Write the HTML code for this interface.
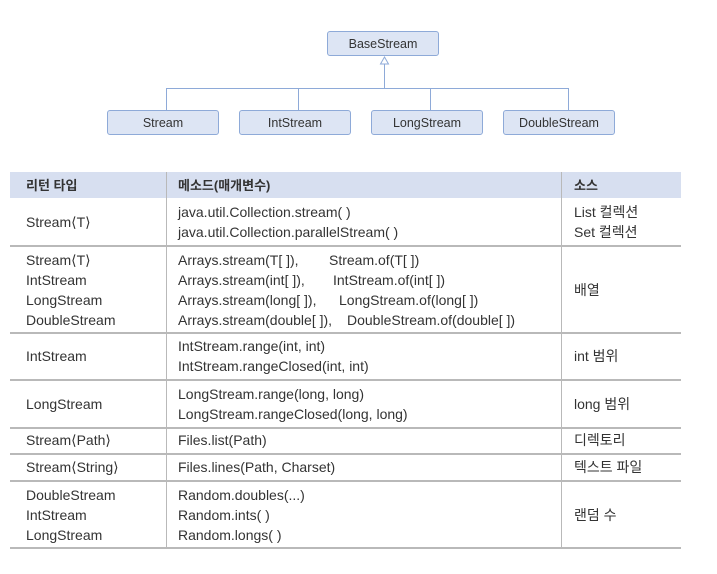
<!DOCTYPE html>
<html><head><meta charset="utf-8"><style>
body{margin:0;width:717px;height:574px;background:#fff;font-family:"Liberation Sans","Noto Sans CJK KR",sans-serif;color:#333;position:relative;overflow:hidden}
.b{position:absolute;height:25px;width:112px;background:#dde5f4;border:1px solid #8eaad8;border-radius:3px;font-size:12.5px;line-height:25px;text-align:center;box-sizing:border-box}
.l{position:absolute;background:#8eaad8}
.t{position:absolute;font-size:14px;line-height:20px;white-space:nowrap}
.h{position:absolute;background:#b9b9b9;height:2px;left:10px;width:671px}
.v{position:absolute;background:#b9b9b9;width:1px}
</style></head><body>
<div class="b" style="left:327px;top:31px">BaseStream</div>
<div class="b" style="left:107px;top:110px">Stream</div>
<div class="b" style="left:239px;top:110px">IntStream</div>
<div class="b" style="left:371px;top:110px">LongStream</div>
<div class="b" style="left:503px;top:110px">DoubleStream</div>
<div class="l" style="left:384px;top:63px;width:1px;height:25px"></div>
<div class="l" style="left:166px;top:88px;width:403px;height:1px"></div>
<div class="l" style="left:166px;top:88px;width:1px;height:22px"></div>
<div class="l" style="left:298px;top:88px;width:1px;height:22px"></div>
<div class="l" style="left:430px;top:88px;width:1px;height:22px"></div>
<div class="l" style="left:568px;top:88px;width:1px;height:22px"></div>
<svg style="position:absolute;left:379px;top:56px" width="11" height="9"><polygon points="5.5,1 9.5,8 1.5,8" fill="#fff" stroke="#8eaad8"/></svg>

<div style="position:absolute;left:10px;top:172px;width:671px;height:26px;background:#d7dff0"></div>
<div class="t" style="left:26px;top:176px;font-weight:bold;font-size:13px">리턴 타입</div>
<div class="t" style="left:178px;top:176px;font-weight:bold;font-size:13px">메소드(매개변수)</div>
<div class="t" style="left:574px;top:176px;font-weight:bold;font-size:13px">소스</div>
<div class="v" style="left:166px;top:172px;height:376px"></div>
<div class="v" style="left:561px;top:172px;height:376px"></div>
<div class="h" style="top:245px"></div>
<div class="h" style="top:332px"></div>
<div class="h" style="top:379px"></div>
<div class="h" style="top:427px"></div>
<div class="h" style="top:453px"></div>
<div class="h" style="top:480px"></div>
<div class="h" style="top:547px"></div>

<div class="t" style="left:26px;top:212px">Stream⟨T⟩</div>
<div class="t" style="left:178px;top:202px">java.util.Collection.stream( )<br>java.util.Collection.parallelStream( )</div>
<div class="t" style="left:574px;top:202px">List 컬렉션<br>Set 컬렉션</div>

<div class="t" style="left:26px;top:250px">Stream⟨T⟩<br>IntStream<br>LongStream<br>DoubleStream</div>
<div class="t" style="left:178px;top:250px">Arrays.stream(T[ ]),<br>Arrays.stream(int[ ]),<br>Arrays.stream(long[ ]),<br>Arrays.stream(double[ ]),</div>
<div class="t" style="left:329px;top:250px">Stream.of(T[ ])</div>
<div class="t" style="left:333px;top:270px">IntStream.of(int[ ])</div>
<div class="t" style="left:339px;top:290px">LongStream.of(long[ ])</div>
<div class="t" style="left:347px;top:310px">DoubleStream.of(double[ ])</div>
<div class="t" style="left:574px;top:280px">배열</div>

<div class="t" style="left:26px;top:346px">IntStream</div>
<div class="t" style="left:178px;top:336px">IntStream.range(int, int)<br>IntStream.rangeClosed(int, int)</div>
<div class="t" style="left:574px;top:346px">int 범위</div>

<div class="t" style="left:26px;top:394px">LongStream</div>
<div class="t" style="left:178px;top:384px">LongStream.range(long, long)<br>LongStream.rangeClosed(long, long)</div>
<div class="t" style="left:574px;top:394px">long 범위</div>

<div class="t" style="left:26px;top:430px">Stream⟨Path⟩</div>
<div class="t" style="left:178px;top:430px">Files.list(Path)</div>
<div class="t" style="left:574px;top:430px">디렉토리</div>

<div class="t" style="left:26px;top:457px">Stream⟨String⟩</div>
<div class="t" style="left:178px;top:457px">Files.lines(Path, Charset)</div>
<div class="t" style="left:574px;top:457px">텍스트 파일</div>

<div class="t" style="left:26px;top:485px">DoubleStream<br>IntStream<br>LongStream</div>
<div class="t" style="left:178px;top:485px">Random.doubles(...)<br>Random.ints( )<br>Random.longs( )</div>
<div class="t" style="left:574px;top:505px">랜덤 수</div>
</body></html>
